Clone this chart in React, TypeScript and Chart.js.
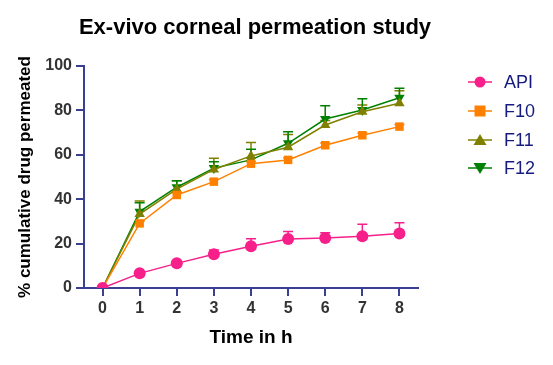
import React, { useEffect, useRef } from "react";
import { Chart, registerables } from "chart.js";

Chart.register(...registerables);

const timePoints = [0, 1, 2, 3, 4, 5, 6, 7, 8];
const seriesNames = ["API", "F10", "F11", "F12"];
const apiValues = [0, 6.6, 11.1, 15.2, 18.8, 22.1, 22.5, 23.3, 24.6];
const apiErrors = [0, 0.6, 0.8, 1.9, 3.4, 3.3, 2.4, 5.4, 4.8];
const f10Values = [0, 29.1, 41.9, 47.9, 56.0, 57.7, 64.3, 68.8, 72.7];
const f10Errors = [0, 1, 1, 1, 1, 1, 1, 1, 1];
const f11Values = [0, 33.3, 44.5, 53.4, 59.5, 63.4, 73.4, 79.4, 83.2];
const f11Errors = [0, 5.9, 3.8, 5.0, 6.0, 5.8, 2.0, 3.0, 5.7];
const f12Values = [0, 34.4, 45.4, 54.0, 57.7, 65.2, 76.1, 80.2, 85.7];
const f12Errors = [0, 4.0, 2.9, 2.9, 4.8, 5.2, 6.0, 5.1, 4.3];
const yTicks = [0, 20, 40, 60, 80, 100];

const colors = ["#f7208b", "#ff8000", "#808000", "#008000"];
const pointStyles = ["circle", "rect", "triangle", "triangle"];
const rotations = [0, 0, 0, 180];
const axisColor = "#3b3f91";
const fontFamily = "Arial, 'Liberation Sans', sans-serif";

export default function App() {
  const ref = useRef<HTMLCanvasElement | null>(null);
  useEffect(() => {
    document.body.style.margin = "0";
    const canvas = ref.current;
    if (!canvas) return;
    const valuesList = [apiValues, f10Values, f11Values, f12Values];
    const errorsList = [apiErrors, f10Errors, f11Errors, f12Errors];

    const errorBars = {
      id: "errorBars",
      beforeDatasetsDraw(chart: any) {
        const ctx = chart.ctx;
        const xs = chart.scales.x;
        const ys = chart.scales.y;
        ctx.save();
        errorsList.forEach((errs, di) => {
          ctx.strokeStyle = colors[di];
          ctx.lineWidth = 1.5;
          errs.forEach((e, i) => {
            if (!e) return;
            const v = valuesList[di][i];
            const px = xs.getPixelForValue(timePoints[i]);
            const py0 = ys.getPixelForValue(v);
            const py1 = ys.getPixelForValue(v + e);
            ctx.beginPath();
            ctx.moveTo(px, py0);
            ctx.lineTo(px, py1);
            ctx.moveTo(px - 5, py1);
            ctx.lineTo(px + 5, py1);
            ctx.stroke();
          });
        });
        ctx.restore();
      },
    };

    const extras = {
      id: "extras",
      afterDraw(chart: any) {
        const ctx = chart.ctx;
        ctx.save();
        ctx.fillStyle = "#000";
        ctx.font = "bold 22px " + fontFamily;
        ctx.textAlign = "center";
        ctx.textBaseline = "alphabetic";
        ctx.fillText("Ex-vivo corneal permeation study", 255, 34);
        const rows = [82, 111, 140, 168];
        seriesNames.forEach((name, i) => {
          const y = rows[i];
          ctx.strokeStyle = colors[i];
          ctx.lineWidth = 1.5;
          ctx.beginPath();
          ctx.moveTo(468, y);
          ctx.lineTo(492, y);
          ctx.stroke();
          ctx.fillStyle = colors[i];
          ctx.beginPath();
          if (i === 0) {
            ctx.arc(480, y, 5.5, 0, Math.PI * 2);
          } else if (i === 1) {
            ctx.rect(474.5, y - 5.5, 11, 11);
          } else if (i === 2) {
            ctx.moveTo(480, y - 6);
            ctx.lineTo(486.5, y + 5);
            ctx.lineTo(473.5, y + 5);
            ctx.closePath();
          } else {
            ctx.moveTo(480, y + 6);
            ctx.lineTo(486.5, y - 5);
            ctx.lineTo(473.5, y - 5);
            ctx.closePath();
          }
          ctx.fill();
          ctx.fillStyle = "#141a7e";
          ctx.font = "18px " + fontFamily;
          ctx.textAlign = "left";
          ctx.textBaseline = "middle";
          ctx.fillText(name, 504, y + 1);
        });
        ctx.restore();
      },
    };

    const chart = new Chart(canvas, {
      type: "line",
      data: {
        datasets: valuesList.map((vals, di) => ({
          label: seriesNames[di],
          data: vals.map((v, i) => ({ x: timePoints[i], y: v })),
          borderColor: colors[di],
          backgroundColor: colors[di],
          borderWidth: 1.5,
          pointStyle: pointStyles[di] as any,
          rotation: rotations[di],
          pointRadius: 6,
          pointBorderWidth: 0,
          tension: 0,
        })),
      },
      options: {
        animation: false,
        responsive: false,
        devicePixelRatio: 1,
        layout: { padding: { left: 0, right: 135, top: 66, bottom: 0 } },
        plugins: {
          legend: { display: false },
          title: { display: false },
          tooltip: { enabled: false },
        },
        scales: {
          x: {
            type: "linear",
            min: -0.5,
            max: 8.5,
            afterBuildTicks: (scale: any) => {
              scale.ticks = timePoints.map((v) => ({ value: v }));
            },
            afterFit: (scale: any) => {
              scale.height = 77;
            },
            ticks: {
              color: "#333",
              font: { family: fontFamily, size: 16, weight: "bold" },
              padding: 3,
            },
            grid: {
              display: true,
              drawOnChartArea: false,
              drawTicks: true,
              tickLength: 8,
              color: axisColor,
              lineWidth: 2,
            },
            border: { display: true, color: axisColor, width: 2 },
            title: {
              display: true,
              text: "Time in h",
              color: "#000",
              font: { family: fontFamily, size: 19, weight: "bold" },
              padding: { top: 0, bottom: 16 },
            },
          },
          y: {
            min: 0,
            max: 100,
            afterBuildTicks: (scale: any) => {
              scale.ticks = yTicks.map((v) => ({ value: v }));
            },
            afterFit: (scale: any) => {
              scale.width = 84;
            },
            ticks: {
              color: "#333",
              font: { family: fontFamily, size: 16, weight: "bold" },
              padding: 4,
            },
            grid: {
              display: true,
              drawOnChartArea: false,
              drawTicks: true,
              tickLength: 8,
              color: axisColor,
              lineWidth: 2,
            },
            border: { display: true, color: axisColor, width: 2 },
            title: {
              display: true,
              text: "% cumulative drug permeated",
              color: "#000",
              font: { family: fontFamily, size: 17, weight: "bold" },
              padding: { top: 15, bottom: 0 },
            },
          },
        },
      },
      plugins: [errorBars, extras],
    });
    return () => chart.destroy();
  }, []);
  return (
    <div style={{ width: 553, height: 365 }}>
      <canvas ref={ref} width={553} height={365} />
    </div>
  );
}
